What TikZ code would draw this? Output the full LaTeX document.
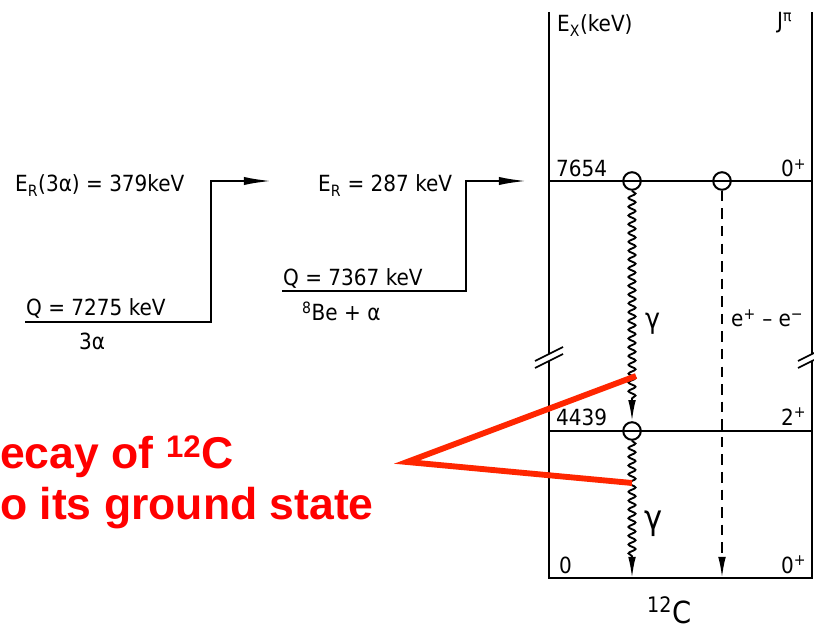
\documentclass[tikz,border=0pt]{standalone}
\usepackage{fontspec}
\setmainfont{DejaVu Sans Condensed}
\newfontfamily\rojofont{Liberation Sans}
\usetikzlibrary{arrows.meta, decorations.pathmorphing, positioning}

\definecolor{rojo}{RGB}{255,0,0}
\definecolor{rojolinea}{RGB}{255,38,0}

\tikzset{
  linea/.style={line width=1.9pt},
  texto/.style={anchor=base west, inner sep=0pt, font=\fontsize{19}{22}\selectfont},
  flecha/.style={line width=1.9pt, -{Latex[length=24pt,width=7pt]}},
  circulo/.style={draw, circle, line width=1.7pt, minimum size=15pt, inner sep=0pt},
  onda/.style={line width=1.6pt, decorate,
    decoration={snake, amplitude=3pt, segment length=7.5pt, post length=18pt}},
  rayas/.style={line width=1.7pt, dash pattern=on 9pt off 6pt},
  punta/.style={-{Latex[length=18pt,width=6.5pt]}},
  rojotexto/.style={anchor=base west, inner sep=0pt, text=rojo,
    font=\rojofont\bfseries\fontsize{38}{46}\selectfont},
  rojoline/.style={rojolinea, line width=5pt, line join=miter}
}

\begin{document}
\begin{tikzpicture}[x=0.03cm, y=-0.03cm]
\useasboundingbox (0,0) rectangle (814,629);

% Esquema de niveles del 12C
\draw[linea] (549,12) -- (549,578) -- (812,578) -- (812,12);
\draw[linea] (549,181) -- (812,181);
\draw[linea] (549,431) -- (812,431);

% Cortes en los ejes
\fill[white] (535,361) -- (563,347) -- (563,354) -- (535,368) -- cycle;
\draw[line width=1.5pt] (535,361) -- (563,347) (535,368) -- (563,354);
\fill[white] (798,361) -- (814,353) -- (814,360) -- (798,368) -- cycle;
\draw[line width=1.5pt] (798,361) -- (814,353) (798,368) -- (814,360);

% Textos de los niveles
\node[texto] (ex) at (557,32) {E\textsubscript{X}(keV)};
\node[texto] (jpi) at (777,29) {J\textsuperscript{π}};
\node[texto] (e7654) at (556,177) {7654};
\node[texto] (j7654) at (781,177) {0\textsuperscript{+}};
\node[texto] (e4439) at (556,425) {4439};
\node[texto] (j4439) at (781,425) {2\textsuperscript{+}};
\node[texto] (e0) at (559,573) {0};
\node[texto] (j0) at (781,573) {0\textsuperscript{+}};
\node[texto, font=\fontsize{26}{30}\selectfont] (c12) at (647,623) {\textsuperscript{12}C};

% Transiciones
\node[circulo] (a1) at (632,181) {};
\node[circulo] (a2) at (722,181) {};
\node[circulo] (b1) at (632,431) {};
\coordinate (c1) at (632,578);
\coordinate (c2) at (722,578);
\draw[onda, punta] (a1.south) -- (b1.north);
\draw[onda, punta] (b1.south) -- (c1);
\draw[rayas, punta] (a2.south) -- (c2);
\node[texto, font=\fontsize{24}{28}\selectfont] (g1) at (645,329) {γ};
\node[texto, font=\fontsize{29}{32}\selectfont] (g2) at (644,529) {γ};
\node[texto] (ee) at (731,327) {e\textsuperscript{+} – e\textsuperscript{−}};

% Entrada: 3 alfa y 8Be + alfa
\node[texto] (er1) at (15,192) {E\textsubscript{R}(3α) = 379keV};
\node[texto] (q1) at (26,316) {Q = 7275 keV};
\node[texto] (al3) at (79,350) {3α};
\node[texto] (er2) at (318,192) {E\textsubscript{R} = 287 keV};
\node[texto] (q2) at (283,286) {Q = 7367 keV};
\node[texto] (be8) at (302,321) {\textsuperscript{8}Be + α};

\coordinate (s1) at (25,322);
\coordinate (k1) at (211,181);
\coordinate (t1) at (272,181);
\draw[flecha] (s1) -| (k1) -- (t1);
\coordinate (s2) at (282,291);
\coordinate (k2) at (466,181);
\coordinate (t2) at (527,181);
\draw[flecha] (s2) -| (k2) -- (t2);

% Anotacion en rojo
\node[rojotexto] (dec1) at (0,468) {ecay of \textsuperscript{12}C};
\node[rojotexto] (dec2) at (0,519) {o its ground state};
\coordinate (pico) at (407,462);
\coordinate (arriba) at (636,376);
\coordinate (abajo) at (632,483);
\draw[rojoline] (arriba) -- (pico) -- (abajo);
\end{tikzpicture}
\end{document}
